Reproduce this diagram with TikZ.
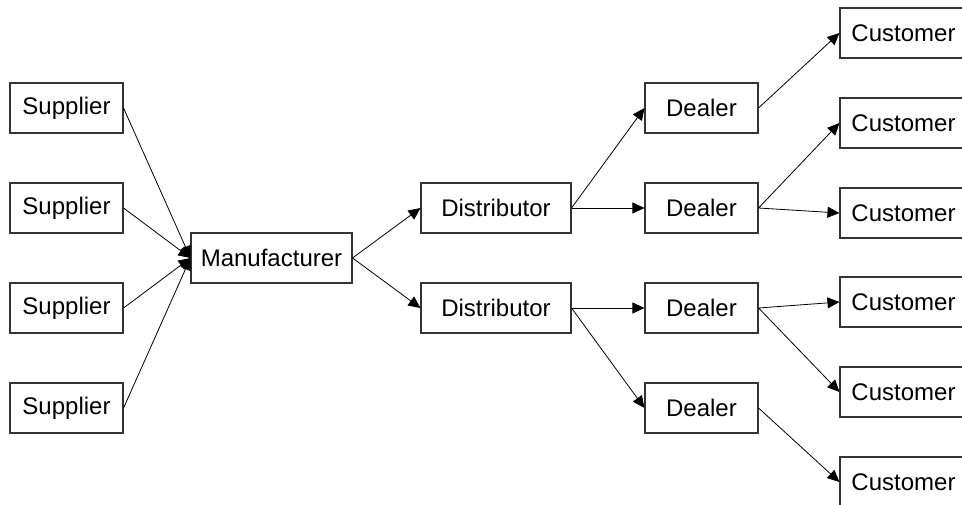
\documentclass[tikz,border=0pt]{standalone}
\usepackage{fontspec}
\setmainfont{Liberation Sans}
\usetikzlibrary{arrows.meta}
\begin{document}
\begin{tikzpicture}[x=1pt,y=-1pt,
  box/.style={draw=black!80,line width=1.1pt,rectangle,inner sep=0pt,minimum height=50pt,font=\fontsize{24}{28}\selectfont},
  sbox/.style={box,minimum width=113pt},
  mbox/.style={box,minimum width=161pt},
  dbox/.style={box,minimum width=150pt},
  cbox/.style={box,minimum width=127pt},
  link/.style={line width=0.8pt,-{Triangle[length=12pt,width=11pt]}}]
\useasboundingbox (0,0) rectangle (962,504);
\clip (0,0) rectangle (962,504);
\node[sbox] (s1) at (66.5,108) {Supplier};
\node[sbox] (s2) at (66.5,208) {Supplier};
\node[sbox] (s3) at (66.5,308) {Supplier};
\node[sbox] (s4) at (66.5,408) {Supplier};
\node[mbox] (m) at (271.5,258) {Manufacturer};
\node[dbox] (d1) at (496,208) {Distributor};
\node[dbox] (d2) at (496,308) {Distributor};
\node[sbox] (r1) at (701.5,108) {Dealer};
\node[sbox] (r2) at (701.5,208) {Dealer};
\node[sbox] (r3) at (701.5,308) {Dealer};
\node[sbox] (r4) at (701.5,408) {Dealer};
\node[cbox] (c1) at (903.5,33) {Customer};
\node[cbox] (c2) at (903.5,123) {Customer};
\node[cbox] (c3) at (903.5,213) {Customer};
\node[cbox] (c4) at (903.5,302) {Customer};
\node[cbox] (c5) at (903.5,392) {Customer};
\node[cbox] (c6) at (903.5,482) {Customer};
\foreach \s in {s1,s2,s3,s4} \draw[link] (\s.east) -- (m.west);
\draw[link] (m.east) -- (d1.west);
\draw[link] (m.east) -- (d2.west);
\draw[link] (d1.east) -- (r1.west);
\draw[link] (d1.east) -- (r2.west);
\draw[link] (d2.east) -- (r3.west);
\draw[link] (d2.east) -- (r4.west);
\draw[link] (r1.east) -- (c1.west);
\draw[link] (r2.east) -- (c2.west);
\draw[link] (r2.east) -- (c3.west);
\draw[link] (r3.east) -- (c4.west);
\draw[link] (r3.east) -- (c5.west);
\draw[link] (r4.east) -- (c6.west);
\end{tikzpicture}
\end{document}
